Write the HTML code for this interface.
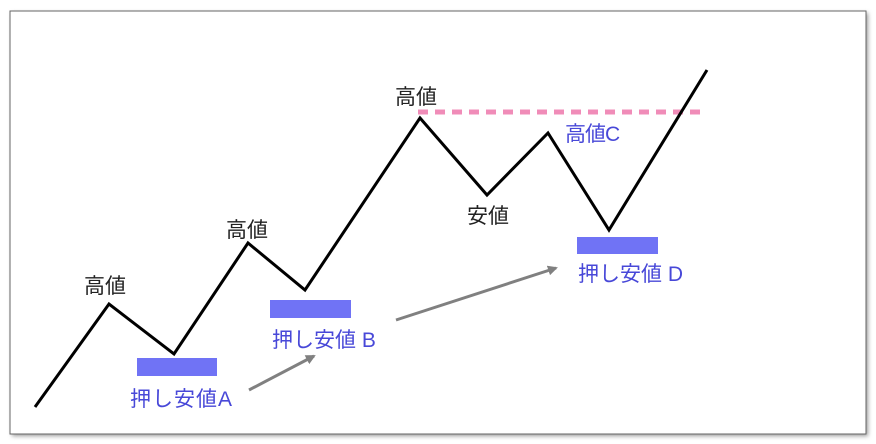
<!DOCTYPE html>
<html><head><meta charset="utf-8"><style>
html,body{margin:0;padding:0;background:#fff;width:876px;height:444px;overflow:hidden}
svg{display:block}
text{font-family:"Liberation Sans","Noto Sans CJK JP",sans-serif;font-size:21px}
</style></head><body>
<svg width="876" height="444" viewBox="0 0 876 444">
<defs>
<marker id="ar" markerWidth="10" markerHeight="10" refX="8" refY="5" orient="auto" markerUnits="userSpaceOnUse">
<path d="M0,0 L10,5 L0,10 Z" fill="#808080"/></marker>
<filter id="sh" x="-5%" y="-5%" width="110%" height="110%"><feGaussianBlur stdDeviation="2"/></filter>
</defs>
<rect x="12" y="13" width="856" height="423" fill="#999" filter="url(#sh)"/>
<rect x="10" y="11" width="856" height="423" fill="#fff" stroke="#666" stroke-width="1"/>
<line x1="418" y1="112" x2="700" y2="112" stroke="#f08cb8" stroke-width="5" stroke-dasharray="10,7"/>
<polyline points="35,407 109,304 174,354 248,243 305,290 420,118 487,195 548,133 609,230 707,70" fill="none" stroke="#000" stroke-width="3" stroke-linejoin="miter"/>
<rect x="137" y="358" width="80" height="18" fill="#7073f5"/>
<rect x="270" y="300" width="81" height="18" fill="#7073f5"/>
<rect x="577" y="237" width="81" height="17" fill="#7073f5"/>
<line x1="249" y1="390" x2="314" y2="356" stroke="#808080" stroke-width="3" marker-end="url(#ar)"/>
<line x1="396" y1="320" x2="556" y2="268" stroke="#808080" stroke-width="3" marker-end="url(#ar)"/>
<g fill="#222">
<text x="84" y="293">高値</text>
<text x="226" y="237">高値</text>
<text x="395" y="104">高値</text>
<text x="467" y="223">安値</text>
</g>
<g fill="#4848d8">
<text x="565" y="141" letter-spacing="-1">高値C</text>
<text x="130" y="406" letter-spacing="1">押し安値A</text>
<text x="272" y="347">押し安値 B</text>
<text x="578" y="281">押し安値 D</text>
</g>
</svg>
</body></html>
